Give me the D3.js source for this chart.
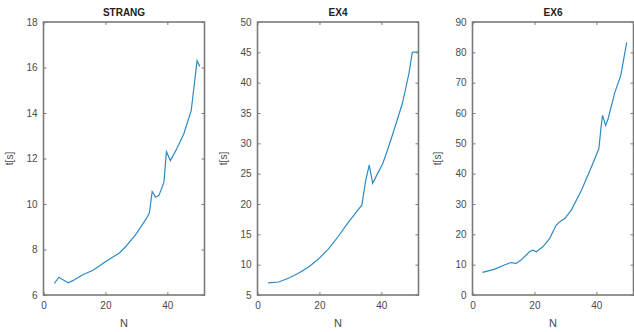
<!DOCTYPE html>
<html>
<head>
<meta charset="utf-8">
<script src="https://cdn.jsdelivr.net/npm/d3@7"></script>
<style>
  body { margin: 0; background: #fff; }
  svg { display: block; font-family: "Liberation Sans", Arial, sans-serif; }
</style>
</head>
<body>
<svg id="chart" width="634" height="332"></svg>
<script>
// ---- data ----
const titles = ["STRANG", "EX4", "EX6"];

const strangN = [3.5, 5, 6, 8, 9.5, 12.5, 16, 20, 24.5, 26.5, 30, 33, 34.2, 35.1, 36.2, 37.3, 38.9, 39.7, 41, 43, 45.3, 47.7, 49.6, 50.5];
const strangT = [6.51, 6.78, 6.69, 6.54, 6.63, 6.88, 7.09, 7.46, 7.85, 8.12, 8.7, 9.31, 9.6, 10.55, 10.3, 10.38, 10.96, 12.3, 11.91, 12.42, 13.08, 14.1, 16.3, 16.05];

const ex4N = [3.4, 6.8, 10, 13.2, 16.4, 19.6, 22.8, 26, 29.2, 32.4, 33.7, 35, 36.1, 37.2, 38.8, 40.4, 42, 44.1, 46.8, 48.9, 50, 52];
const ex4T = [7.0, 7.14, 7.75, 8.57, 9.56, 10.88, 12.53, 14.6, 16.9, 19.0, 19.8, 24.0, 26.4, 23.4, 25.05, 26.6, 28.9, 32.2, 36.6, 41.5, 45.0, 45.1];

const ex6N = [3.2, 7, 10.3, 12.4, 14.1, 15.7, 18.4, 19.5, 20.6, 22.7, 24.9, 27, 28.1, 29.8, 31.9, 35.2, 38.4, 40.8, 41.7, 42, 43, 43.8, 46, 47.9, 49.8];
const ex6T = [7.46, 8.44, 9.87, 10.7, 10.4, 11.5, 14.25, 14.8, 14.25, 15.9, 18.6, 23.0, 24.1, 25.2, 28.0, 34.5, 42.2, 48.2, 57.0, 59.2, 55.9, 58.1, 66.9, 72.4, 83.3];

const xTicks = [0, 20, 40];
const yTicks1 = [6, 8, 10, 12, 14, 16, 18];
const yTicks2 = [5, 10, 15, 20, 25, 30, 35, 40, 45, 50];
const yTicks3 = [0, 10, 20, 30, 40, 50, 60, 70, 80, 90];

const panels = [
  { title: titles[0], n: strangN, t: strangT, yDomain: [6, 18], yTicks: yTicks1, left: 43.5, labelX: 10 },
  { title: titles[1], n: ex4N, t: ex4T, yDomain: [5, 50], yTicks: yTicks2, left: 257.5, labelX: 224 },
  { title: titles[2], n: ex6N, t: ex6T, yDomain: [0, 90], yTicks: yTicks3, left: 472.5, labelX: 438 }
];

const svg = d3.select("#chart");
const plotTop = 22, plotBottom = 295, panelW = 161;
const axisColor = "#7a7a7a", textColor = "#4a4a4a", lineColor = "#2f8ac4";

panels.forEach(p => {
  const x = d3.scaleLinear().domain([0, 52]).range([p.left, p.left + panelW]);
  const y = d3.scaleLinear().domain(p.yDomain).range([plotBottom, plotTop]);
  const g = svg.append("g");

  // ticks pointing inward on all four sides (box on)
  g.append("g").attr("transform", `translate(0,${plotBottom})`)
    .call(d3.axisBottom(x).tickValues(xTicks).tickSize(-3).tickPadding(7).tickSizeOuter(0));
  g.append("g").attr("transform", `translate(0,${plotTop})`)
    .call(d3.axisTop(x).tickValues(xTicks).tickSize(-3).tickFormat("").tickSizeOuter(0));
  g.append("g").attr("transform", `translate(${p.left},0)`)
    .call(d3.axisLeft(y).tickValues(p.yTicks).tickSize(-3).tickPadding(6).tickSizeOuter(0));
  g.append("g").attr("transform", `translate(${p.left + panelW},0)`)
    .call(d3.axisRight(y).tickValues(p.yTicks).tickSize(-3).tickFormat("").tickSizeOuter(0));

  g.selectAll(".domain").remove();
  g.selectAll(".tick line").attr("stroke", axisColor);
  g.selectAll(".tick text").attr("fill", textColor).style("font-size", "10px");

  // box
  g.append("rect")
    .attr("x", p.left).attr("y", plotTop)
    .attr("width", panelW).attr("height", plotBottom - plotTop)
    .attr("fill", "none")
    .attr("stroke", axisColor)
    .attr("stroke-width", 1.6);

  const pts = p.n.map((d, i) => [d, p.t[i]]);
  g.append("path")
    .datum(pts)
    .attr("fill", "none")
    .attr("stroke", lineColor)
    .attr("stroke-width", 1.2)
    .attr("d", d3.line().x(d => x(d[0])).y(d => y(d[1])));

  // title
  g.append("text")
    .attr("x", p.left + panelW / 2).attr("y", 16)
    .attr("text-anchor", "middle")
    .style("font-size", "10px").style("font-weight", "bold")
    .attr("fill", "#222")
    .text(p.title);

  // axis labels
  g.append("text")
    .attr("x", p.left + panelW / 2).attr("y", 327)
    .attr("text-anchor", "middle")
    .style("font-size", "11px")
    .attr("fill", textColor)
    .text("N");

  g.append("text")
    .attr("transform", `translate(${p.labelX + 3},${(plotTop + plotBottom) / 2}) rotate(-90)`)
    .attr("text-anchor", "middle")
    .style("font-size", "10px")
    .attr("fill", textColor)
    .text("t[s]");
});
</script>
</body>
</html>
